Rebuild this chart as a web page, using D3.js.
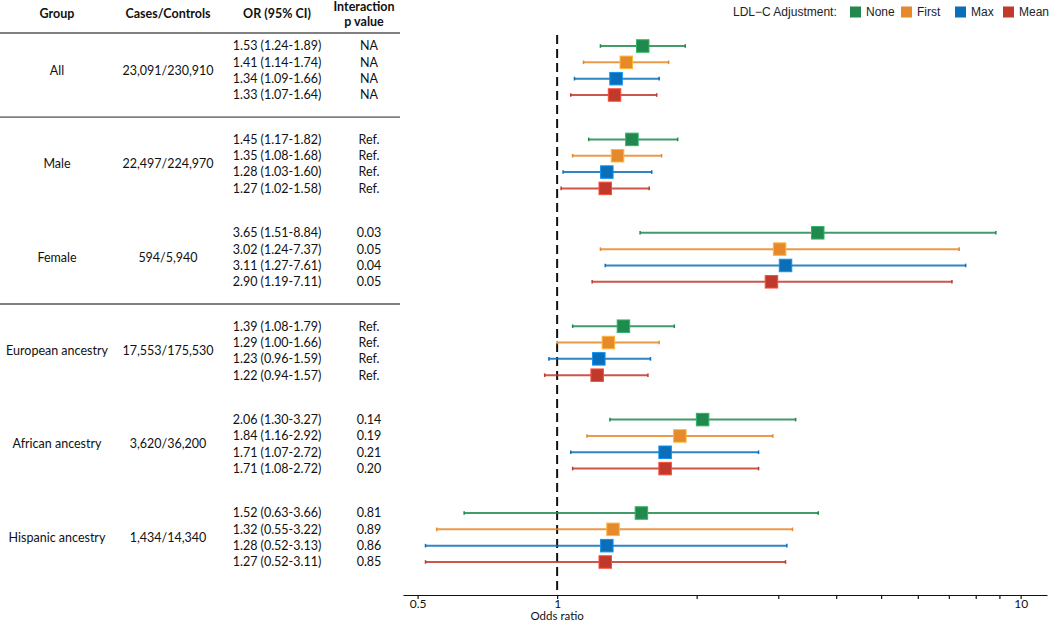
<!DOCTYPE html>
<html>
<head>
<meta charset="utf-8">
<script src="https://cdn.jsdelivr.net/npm/d3@7"></script>
<style>
html,body{margin:0;padding:0;background:#fff;}
svg{display:block;}
</style>
</head>
<body>
<svg id="chart" width="1050" height="622"></svg>
<script>
// ---------- data ----------
const groups = ["All","Male","Female","European ancestry","African ancestry","Hispanic ancestry"];
const casesControls = ["23,091/230,910","22,497/224,970","594/5,940","17,553/175,530","3,620/36,200","1,434/14,340"];
const adjustments = ["None","First","Max","Mean"];
const adjColors = ["#21894d","#e6892a","#0b6eb8","#c0392b"];

const orNone  = [1.53,1.45,3.65,1.39,2.06,1.52];
const loNone  = [1.24,1.17,1.51,1.08,1.30,0.63];
const hiNone  = [1.89,1.82,8.84,1.79,3.27,3.66];
const orFirst = [1.41,1.35,3.02,1.29,1.84,1.32];
const loFirst = [1.14,1.08,1.24,1.00,1.16,0.55];
const hiFirst = [1.74,1.68,7.37,1.66,2.92,3.22];
const orMax   = [1.34,1.28,3.11,1.23,1.71,1.28];
const loMax   = [1.09,1.03,1.27,0.96,1.07,0.52];
const hiMax   = [1.66,1.60,7.61,1.59,2.72,3.13];
const orMean  = [1.33,1.27,2.90,1.22,1.71,1.27];
const loMean  = [1.07,1.02,1.19,0.94,1.08,0.52];
const hiMean  = [1.64,1.58,7.11,1.57,2.72,3.11];

const pNone  = ["NA","Ref.","0.03","Ref.","0.14","0.81"];
const pFirst = ["NA","Ref.","0.05","Ref.","0.19","0.89"];
const pMax   = ["NA","Ref.","0.04","Ref.","0.21","0.86"];
const pMean  = ["NA","Ref.","0.05","Ref.","0.20","0.85"];

const xTickValues = [0.5,1,2,3,4,5,6,7,8,9,10];
const xTickLabels = [0.5,1,10];
const headers = ["Group","Cases/Controls","OR (95% CI)"];
const separatorAfterGroups = [0,2]; // lines drawn after these groups

// ---------- build rows ----------
const seriesData = [
  {or:orNone, lo:loNone, hi:hiNone, p:pNone},
  {or:orFirst, lo:loFirst, hi:hiFirst, p:pFirst},
  {or:orMax, lo:loMax, hi:hiMax, p:pMax},
  {or:orMean, lo:loMean, hi:hiMean, p:pMean}
];
const rows = [];
groups.forEach((g,gi)=>{
  adjustments.forEach((a,ai)=>{
    const s = seriesData[ai];
    rows.push({group:g, gi, adj:a, ai, or:s.or[gi], lo:s.lo[gi], hi:s.hi[gi], p:s.p[gi], color:adjColors[ai]});
  });
});

// ---------- scales ----------
const svg = d3.select("#chart");
const tableFont = "Lato, 'Open Sans', sans-serif";
const x = d3.scaleLog().domain([0.465, 11.4]).range([403, 1047]);
const groupY = d3.scaleLinear().domain([0,1]).range([46, 139.4]);
const innerStep = 16.33;
const rowY = r => groupY(r.gi) + r.ai*innerStep;
const fmt = d3.format(".2f");

// ---------- table header ----------
const colX = {group:57, cases:168, or:277, p:364};
const hdr = svg.append("g").attr("font-family", tableFont).attr("font-weight","bold")
  .attr("font-size","12.5px").attr("fill","#111").attr("text-anchor","middle");
hdr.append("text").attr("x",colX.group).attr("y",14).attr("dy","0.35em").text(headers[0]);
hdr.append("text").attr("x",colX.cases).attr("y",14).attr("dy","0.35em").text(headers[1]);
hdr.append("text").attr("x",colX.or).attr("y",14).attr("dy","0.35em").text(headers[2]);
hdr.append("text").attr("x",colX.p).attr("y",6.5).attr("dy","0.35em").text("Interaction");
hdr.append("text").attr("x",colX.p).attr("y",21.5).attr("dy","0.35em").text("p value");

// separators
const sepY = [33].concat(separatorAfterGroups.map(gi => (groupY(gi) + 3*innerStep + groupY(gi+1))/2));
svg.append("g").selectAll("line").data(sepY).join("line")
  .attr("x1",0).attr("x2",400).attr("y1",d=>d).attr("y2",d=>d)
  .attr("stroke","#808080").attr("stroke-width",1.8);

// group labels
const tbl = svg.append("g").attr("font-family", tableFont).attr("font-size","12.5px").attr("fill","#111").attr("text-anchor","middle");
tbl.selectAll("text.grp").data(groups).join("text").attr("class","grp")
  .attr("x",colX.group).attr("y",(d,i)=>groupY(i)+1.5*innerStep).attr("dy","0.35em").text(d=>d);
tbl.selectAll("text.cc").data(casesControls).join("text").attr("class","cc")
  .attr("x",colX.cases).attr("y",(d,i)=>groupY(i)+1.5*innerStep).attr("dy","0.35em").text(d=>d);
tbl.selectAll("text.or").data(rows).join("text").attr("class","or")
  .attr("x",colX.or).attr("y",rowY).attr("dy","0.35em")
  .text(d=>`${fmt(d.or)} (${fmt(d.lo)}-${fmt(d.hi)})`);
tbl.selectAll("text.p").data(rows).join("text").attr("class","p")
  .attr("x",colX.p+5).attr("y",rowY).attr("dy","0.35em").text(d=>d.p);

// ---------- axis ----------
const axisY = 595;
const axis = d3.axisBottom(x).tickValues(xTickValues)
  .tickFormat(d => xTickLabels.includes(d) ? String(d) : "")
  .tickSize(4).tickSizeOuter(0);
const ag = svg.append("g").attr("transform",`translate(0,${axisY})`).call(axis);
ag.select(".domain").attr("stroke","#111").attr("stroke-width",1.2);
ag.selectAll(".tick line").attr("stroke","#111").attr("stroke-width",1.2);
ag.selectAll(".tick text").attr("font-family",tableFont).attr("font-size","12px").attr("fill","#111").attr("y",4);
svg.append("text").attr("x",x(1)).attr("y",616).attr("dy","0.35em").attr("text-anchor","middle")
  .attr("font-family",tableFont).attr("font-size","11.5px").attr("fill","#111").text("Odds ratio");

// reference line
svg.append("line").attr("x1",x(1)).attr("x2",x(1)).attr("y1",35).attr("y2",axisY-2)
  .attr("stroke","#111").attr("stroke-width",2).attr("stroke-dasharray","9,5");

// ---------- forest marks ----------
const marks = svg.append("g");
marks.selectAll("line.ci").data(rows).join("line").attr("class","ci")
  .attr("x1",d=>x(d.lo)).attr("x2",d=>x(d.hi)).attr("y1",rowY).attr("y2",rowY)
  .attr("stroke",d=>d.color).attr("stroke-width",2).attr("stroke-opacity",0.85);
marks.selectAll("line.capl").data(rows).join("line").attr("class","capl")
  .attr("x1",d=>x(d.lo)).attr("x2",d=>x(d.lo)).attr("y1",d=>rowY(d)-1.8).attr("y2",d=>rowY(d)+1.8)
  .attr("stroke",d=>d.color).attr("stroke-width",1.5);
marks.selectAll("line.capr").data(rows).join("line").attr("class","capr")
  .attr("x1",d=>x(d.hi)).attr("x2",d=>x(d.hi)).attr("y1",d=>rowY(d)-1.8).attr("y2",d=>rowY(d)+1.8)
  .attr("stroke",d=>d.color).attr("stroke-width",1.5);
const sq = 12.5;
marks.selectAll("rect.pt").data(rows).join("rect").attr("class","pt")
  .attr("x",d=>x(d.or)-sq/2).attr("y",d=>rowY(d)-sq/2).attr("width",sq).attr("height",sq)
  .attr("fill",d=>d.color).attr("stroke",d=>d3.color(d.color).brighter(0.8)).attr("stroke-width",1);

// ---------- legend ----------
const lg = svg.append("g").attr("font-family","'Liberation Sans', Arial, sans-serif").attr("font-size","12px").attr("fill","#222");
lg.append("text").attr("x",733).attr("y",12).attr("dy","0.35em").text("LDL\u2212C Adjustment:");
const legX = [850, 901, 955, 1003];
adjustments.forEach((a,i)=>{
  lg.append("rect").attr("x",legX[i]).attr("y",6.5).attr("width",11).attr("height",11).attr("fill",adjColors[i]);
  lg.append("text").attr("x",legX[i]+16).attr("y",12).attr("dy","0.35em").text(a);
});
</script>
</body>
</html>
